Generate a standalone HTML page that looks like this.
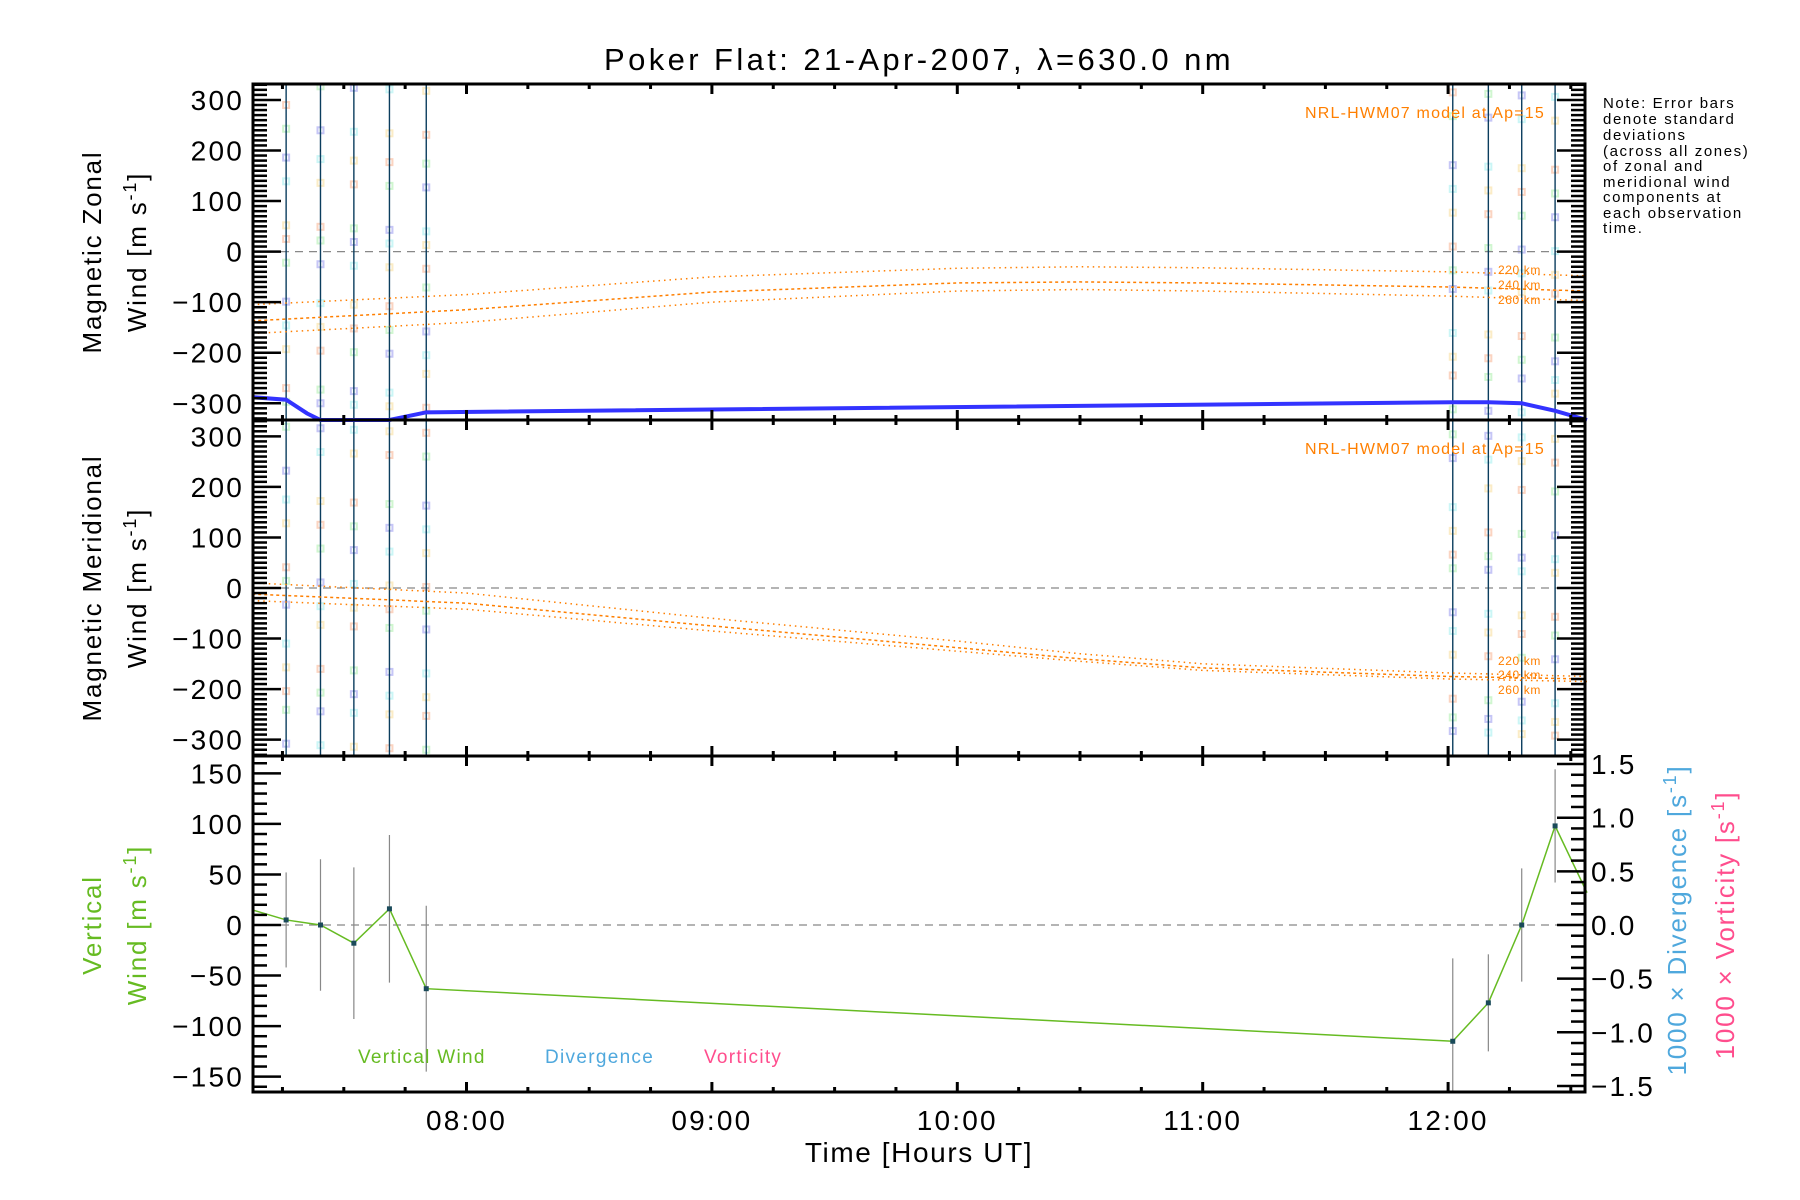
<!DOCTYPE html>
<html><head><meta charset="utf-8"><style>
html,body{margin:0;padding:0;background:#fff}
svg{display:block;font-family:"Liberation Sans",sans-serif}
</style></head><body>
<svg id="chart" width="1800" height="1200" viewBox="0 0 1800 1200" xmlns="http://www.w3.org/2000/svg">
<text x="919" y="70" font-size="31" letter-spacing="3.4" text-anchor="middle">Poker Flat: 21-Apr-2007, λ=630.0 nm</text>
<g id="g"></g>
<g font-size="15" letter-spacing="1.6">
<text x="1603" y="108">Note: Error bars</text>
<text x="1603" y="124">denote standard</text>
<text x="1603" y="140">deviations</text>
<text x="1603" y="156">(across all zones)</text>
<text x="1603" y="171">of zonal and</text>
<text x="1603" y="187">meridional wind</text>
<text x="1603" y="202">components at</text>
<text x="1603" y="218">each observation</text>
<text x="1603" y="233">time.</text>
</g>
</svg>
<script>
const obsTimes=[7.265,7.405,7.541,7.686,7.836,12.019,12.164,12.300,12.436];
const vertWind=[5,0,-18,16,-63,-115,-77,0,98];
const vertErr=[47,65,75,73,82,82,48,56,56];
const vertStart=[7.127,15];const vertEnd=[12.566,32];
const blueT=[7.127,7.265,7.35,7.405,7.686,7.836,12.019,12.164,12.300,12.436,12.566];
const blueV=[-288,-293,-320,-335,-335,-318,-298,-298,-300,-315,-335];
const modelT=[7.127,8,9,10,10.5,11,12,12.566];
const zonal220=[-105,-85,-50,-33,-30,-32,-40,-48];
const zonal240=[-137,-115,-80,-62,-60,-62,-70,-78];
const zonal260=[-162,-140,-100,-78,-75,-78,-88,-97];
const merid220=[10,-10,-60,-105,-130,-150,-168,-175];
const merid240=[-12,-30,-75,-118,-140,-158,-175,-180];
const merid260=[-25,-42,-85,-125,-145,-163,-180,-185];
const dotVals=[310,250,180,120,60,20,-40,-90,-150,-210,-260,-300];
const xTickT=[8,9,10,11,12];const xTickL=["08:00","09:00","10:00","11:00","12:00"];
const yTicks12=[300,200,100,0,-100,-200,-300];
const yTicks3=[150,100,50,0,-50,-100,-150];
const rTicks=[1.5,1.0,0.5,0.0,-0.5,-1.0,-1.5];

const NS="http://www.w3.org/2000/svg";const g=document.getElementById('g');
const L=253,R=1585;
const P=[{top:84,bot:420,y0:251.6,k:0.5055},{top:420,bot:756,y0:588,k:0.5055},{top:756,bot:1092,y0:925,k:1.011}];
const x=t=>466.5+(t-8)*245.4;
const yv=(p,v)=>P[p].y0-v*P[p].k;
const yR=d=>925-d*107.3;
function el(tag,a,txt){const e=document.createElementNS(NS,tag);for(const k in a)e.setAttribute(k,a[k]);if(txt!==undefined)e.textContent=txt;g.appendChild(e);return e;}
function clip(p,v){const y=yv(p,v);return Math.max(P[p].top,Math.min(P[p].bot,y));}

const defs=el('defs',{});
P.forEach((p,i)=>{const c=document.createElementNS(NS,'clipPath');c.setAttribute('id','c'+i);const r=document.createElementNS(NS,'rect');r.setAttribute('x',L);r.setAttribute('y',p.top);r.setAttribute('width',R-L);r.setAttribute('height',p.bot-p.top);c.appendChild(r);defs.appendChild(c);});

const dotCols=["#f8b898","#b0f0b0","#a0a0f0","#a8f0f0","#f8e0a0"];
obsTimes.forEach((t,i)=>{[0,1].forEach(p=>{dotVals.forEach((v,j)=>{
 const vv=v+((i*37+j*13+p*29)%40)-20;
 const d=el('rect',{x:x(t)-3,y:yv(p,vv)-3,width:6,height:6,fill:'none',stroke:dotCols[(i+j+p)%5],'stroke-width':2,opacity:0.6,'clip-path':'url(#c'+p+')'});
 
 
});});});

P.forEach((p,i)=>{const z=el('line',{x1:L,x2:R,y1:p.y0,y2:p.y0,stroke:'#888','stroke-width':1.2,'stroke-dasharray':'8,6'});

});

obsTimes.forEach(t=>{const l=el('line',{x1:x(t),x2:x(t),y1:84,y2:756,stroke:'#0b3d5e','stroke-width':1.4});

});

function curve(p,vals,dash,name){const pts=modelT.map((t,i)=>x(t)+','+yv(p,vals[i])).join(' ');
 const c=el('polyline',{points:pts,fill:'none',stroke:'#ff7f00','stroke-width':1.5,'stroke-dasharray':dash});
 
 }
curve(0,zonal220,'1.5,4','zonal-model-220km');curve(0,zonal240,'3,3','zonal-model-240km');curve(0,zonal260,'1.5,4','zonal-model-260km');
curve(1,merid220,'1.5,4','meridional-model-220km');curve(1,merid240,'3,3','meridional-model-240km');curve(1,merid260,'1.5,4','meridional-model-260km');

const bl=el('polyline',{points:blueT.map((t,i)=>x(t)+','+clip(0,blueV[i])).join(' '),fill:'none',stroke:'#3333ff','stroke-width':4});



[0,1].forEach(p=>{const t=el('text',{x:1545,y:P[p].top+34,'font-size':16,'letter-spacing':1.2,fill:'#ff7f00','text-anchor':'end'},'NRL-HWM07 model at Ap=15');

});
[[274,289,304],[665,679,694]].forEach(ys=>{['220 km','240 km','260 km'].forEach((s,i)=>{const t=el('text',{x:1498,y:ys[i],'font-size':12,'letter-spacing':0.6,fill:'#ff7f00'},s);

});});

obsTimes.forEach((t,i)=>{const e=el('line',{x1:x(t),x2:x(t),y1:clip(2,vertWind[i]+vertErr[i]),y2:clip(2,vertWind[i]-vertErr[i]),stroke:'#888','stroke-width':1.2});

});
const vpts=[[vertStart[0],vertStart[1]]].concat(obsTimes.map((t,i)=>[t,vertWind[i]])).concat([[vertEnd[0],vertEnd[1]]]);
const vl=el('polyline',{points:vpts.map(q=>x(q[0])+','+yv(2,q[1])).join(' '),fill:'none',stroke:'#66bb22','stroke-width':1.5});


obsTimes.forEach((t,i)=>{const m=el('rect',{x:x(t)-2.5,y:yv(2,vertWind[i])-2.5,width:5,height:5,fill:'#1a4a5a'});

});
[['Vertical Wind',358,'#66bb22'],['Divergence',545,'#4fa8dd'],['Vorticity',704,'#ff4d8d']].forEach(a=>{const t=el('text',{x:a[1],y:1063,'font-size':19,'letter-spacing':1.3,fill:a[2]},a[0]);

});

P.forEach((p,i)=>{
 const f=el('rect',{x:L,y:p.top,width:R-L,height:p.bot-p.top,fill:'none',stroke:'#000','stroke-width':3});
 
 
 for(let t=7.25;t<12.6;t+=0.25){const maj=Math.abs(t-Math.round(t))<1e-6;const len=maj?10:5;
  el('line',{x1:x(t),x2:x(t),y1:p.top,y2:p.top+len,stroke:'#000','stroke-width':3});
  el('line',{x1:x(t),x2:x(t),y1:p.bot,y2:p.bot-len,stroke:'#000','stroke-width':3});}
 const lo=i<2?-330:-160,hi=i<2?330:160;
 for(let v=lo;v<=hi;v+=10){const maj=i<2?(v%100===0):(v%50===0);const y=yv(i,v);
  if(y<p.top||y>p.bot)continue;
  el('line',{x1:L,x2:L+(maj?28:14),y1:y,y2:y,stroke:'#000','stroke-width':2.5});
  if(i<2) el('line',{x1:R,x2:R-(maj?28:14),y1:y,y2:y,stroke:'#000','stroke-width':2.5});}
});
for(let d=-1.5;d<=1.501;d+=0.1){const maj=Math.abs(d*2-Math.round(d*2))<1e-6;const y=yR(d);
 el('line',{x1:R,x2:R-(maj?28:14),y1:y,y2:y,stroke:'#000','stroke-width':2.5});}

[0,1].forEach(p=>yTicks12.forEach(v=>{const t=el('text',{x:244,y:yv(p,v)+10,'font-size':28,'letter-spacing':2.2,'text-anchor':'end'},v<0?'\u2212'+(-v):String(v));

}));
yTicks3.forEach(v=>{const t=el('text',{x:244,y:yv(2,v)+10,'font-size':28,'letter-spacing':2.2,'text-anchor':'end'},v<0?'\u2212'+(-v):String(v));

});
rTicks.forEach(d=>{const t=el('text',{x:1591,y:yR(d)+10,'font-size':28,'letter-spacing':2.2},(d<0?'\u2212':'')+Math.abs(d).toFixed(1));

});
xTickT.forEach((tt,i)=>{const t=el('text',{x:x(tt),y:1130,'font-size':28,'letter-spacing':2.2,'text-anchor':'middle'},xTickL[i]);

});
const xt=el('text',{x:919,y:1162,'font-size':28,'letter-spacing':1.6,'text-anchor':'middle'},'Time [Hours UT]');



function vt(xp,yp,s,col,name){const t=el('text',{x:xp,y:yp,'font-size':26,'letter-spacing':1.8,'text-anchor':'middle',fill:col,transform:'rotate(-90 '+xp+' '+yp+')'});
 
 
 t.innerHTML=s;}
vt(101,252,'Magnetic Zonal','#000','zonal-axis-title');
vt(146,252,'Wind [m s<tspan dy="-10" font-size="18">-1</tspan><tspan dy="10">]</tspan>','#000','zonal-axis-unit');
vt(101,588,'Magnetic Meridional','#000','meridional-axis-title');
vt(146,588,'Wind [m s<tspan dy="-10" font-size="18">-1</tspan><tspan dy="10">]</tspan>','#000','meridional-axis-unit');
vt(101,925,'Vertical','#66bb22','vertical-axis-title');
vt(146,925,'Wind [m s<tspan dy="-10" font-size="18">-1</tspan><tspan dy="10">]</tspan>','#66bb22','vertical-axis-unit');
vt(1686,920,'1000 × Divergence [s<tspan dy="-10" font-size="18">-1</tspan><tspan dy="10">]</tspan>','#4fa8dd','divergence-axis-title');
vt(1734,925,'1000 × Vorticity [s<tspan dy="-10" font-size="18">-1</tspan><tspan dy="10">]</tspan>','#ff4d8d','vorticity-axis-title');
</script>
</body></html>
